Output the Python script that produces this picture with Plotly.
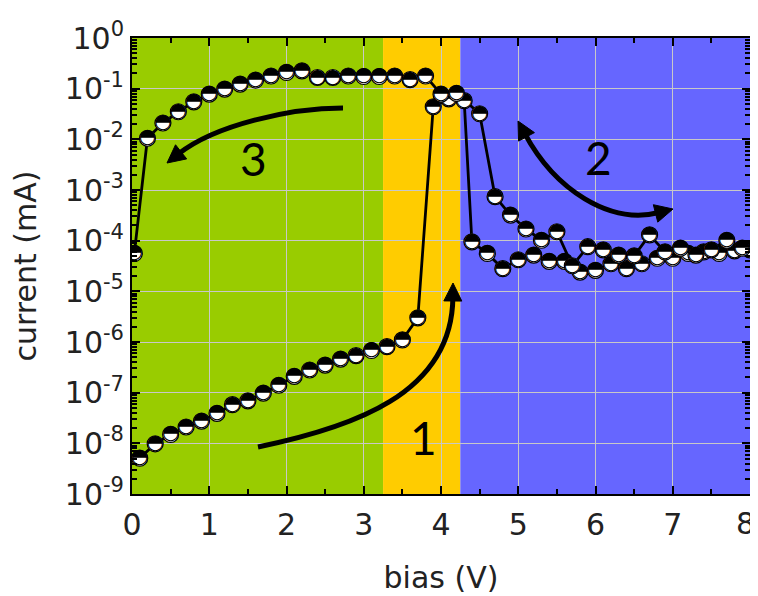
import math
import plotly.graph_objects as go

# ---- data (bias in V, current in mA) ----
# sweep 1 (forward, 0 -> 8 V)
fwd_bias = [0.1, 0.3, 0.5, 0.7, 0.9, 1.1, 1.3, 1.5, 1.7, 1.9, 2.1, 2.3, 2.5, 2.7, 2.9,
            3.1, 3.3, 3.5, 3.7, 3.9, 4.1, 4.3, 4.4, 4.6, 4.8, 5.0, 5.2, 5.4, 5.6, 5.8,
            6.0, 6.2, 6.4, 6.6, 6.8, 7.0, 7.2, 7.4, 7.6, 7.8, 8.0]
fwd_current = [5.1e-9, 9.8e-9, 1.5e-8, 2.1e-8, 2.75e-8, 3.9e-8, 5.8e-8, 6.9e-8, 9.8e-8,
               1.4e-7, 2.1e-7, 2.8e-7, 3.5e-7, 4.6e-7, 5.4e-7, 6.8e-7, 8.1e-7, 1.1e-6,
               3.0e-6, 0.044, 0.063, 0.058, 9.5e-5, 5.6e-5, 2.8e-5, 4.2e-5, 5.2e-5,
               3.9e-5, 3.9e-5, 2.4e-5, 2.6e-5, 3.5e-5, 2.8e-5, 3.5e-5, 4.5e-5, 4.5e-5,
               5.6e-5, 6.0e-5, 5.6e-5, 6.3e-5, 6.6e-5]
# sweeps 2 (return) and 3 (8 -> 0 V)
ret_bias = [7.9, 7.7, 7.5, 7.3, 7.1, 6.9, 6.7, 6.5, 6.3, 6.1, 5.9, 5.7, 5.5, 5.3, 5.1,
            4.9, 4.7, 4.5, 4.2, 4.0, 3.8, 3.6, 3.4, 3.2, 3.0, 2.8, 2.6, 2.4, 2.2, 2.0,
            1.8, 1.6, 1.4, 1.2, 1.0, 0.8, 0.6, 0.4, 0.2, 0.03]
ret_current = [7.1e-5, 1.02e-4, 6.6e-5, 5.2e-5, 7.1e-5, 6.0e-5, 1.3e-4, 5.0e-5, 5.2e-5,
               6.6e-5, 7.6e-5, 3.2e-5, 1.5e-4, 1.02e-4, 1.7e-4, 3.2e-4, 7.4e-4, 0.032,
               0.081, 0.078, 0.178, 0.151, 0.178, 0.174, 0.174, 0.178, 0.166, 0.166,
               0.224, 0.209, 0.178, 0.148, 0.123, 0.098, 0.078, 0.055, 0.035, 0.021,
               0.0105, 5.6e-5]

# background regions (V)
region_edges = [0, 3.25, 4.25, 8]
region_colors = ["#99CC00", "#FFCC00", "#6666FF"]

x_tickvals = [0, 1, 2, 3, 4, 5, 6, 7, 8]
x_ticktext = ["0", "1", "2", "3", "4", "5", "6", "7", ""]   # "8" drawn as annotation
last_x_label = "8"

y_tickvals = [1e-9, 1e-8, 1e-7, 1e-6, 1e-5, 1e-4, 1e-3, 1e-2, 1e-1, 1e0]
y_ticktext = ["10<sup>-9</sup>", "10<sup>-8</sup>", "10<sup>-7</sup>", "10<sup>-6</sup>",
              "10<sup>-5</sup>", "10<sup>-4</sup>", "10<sup>-3</sup>", "10<sup>-2</sup>",
              "10<sup>-1</sup>", "10<sup>0</sup>"]

# page body has an 8px margin: figure is placed at (8, 8)
OFF = 8
W, H = 758 - OFF, 596 - OFF
L, R, T, B = 132 - OFF, 8, 38 - OFF, 102
PW, PH = W - L - R, H - T - B
PLOT_L, PLOT_B = 132, 494   # plot area in window pixels

fig = go.Figure()

for xs, ys in [(fwd_bias, fwd_current), (ret_bias, ret_current)]:
    fig.add_trace(go.Scatter(x=xs, y=ys, mode="lines",
                             line=dict(color="black", width=2.8), hoverinfo="skip"))
for xs, ys in [(fwd_bias, fwd_current), (ret_bias, ret_current)]:
    fig.add_trace(go.Scatter(x=xs, y=ys, mode="markers",
                             marker=dict(symbol="circle", size=16, color="white",
                                         line=dict(color="black", width=1.2))))
    fig.add_trace(go.Scatter(x=xs, y=ys, mode="text", text=["◓"] * len(xs),
                             textposition="middle center",
                             textfont=dict(family="DejaVu Sans", size=20, color="black")))

shapes = []
for i, c in enumerate(region_colors):
    shapes.append(dict(type="rect", xref="x", yref="paper", x0=region_edges[i],
                       x1=region_edges[i + 1], y0=0, y1=1, fillcolor=c,
                       line=dict(width=0), layer="below"))


def P(px, py):
    return ((px - PLOT_L) / PW, (PLOT_B - py) / PH)


def head(tip, frm, length=18, half=9):
    dx, dy = tip[0] - frm[0], tip[1] - frm[1]
    n = math.hypot(dx, dy)
    ux, uy = dx / n, dy / n
    bx, by = tip[0] - ux * length, tip[1] - uy * length
    b1 = (bx - uy * half, by + ux * half)
    b2 = (bx + uy * half, by - ux * half)
    pts = [P(*tip), P(*b1), P(*b2)]
    return ("M {},{} L {},{} L {},{} Z".format(*pts[0], *pts[1], *pts[2]),
            (tip[0] - ux * length * 0.8, tip[1] - uy * length * 0.8))


def arrow(p0, p1, p2, p3, both=False):
    h_end, e3 = head(p3, p2)
    s0 = p0
    if both:
        h_start, s0 = head(p0, p1)
        shapes.append(dict(type="path", xref="paper", yref="paper", path=h_start,
                           fillcolor="black", line=dict(color="black", width=1)))
    a, b, c, d = P(*s0), P(*p1), P(*p2), P(*e3)
    shapes.append(dict(type="path", xref="paper", yref="paper",
                       path="M {},{} C {},{} {},{} {},{}".format(*a, *b, *c, *d),
                       line=dict(color="black", width=5)))
    shapes.append(dict(type="path", xref="paper", yref="paper", path=h_end,
                       fillcolor="black", line=dict(color="black", width=1)))


arrow((258, 447), (350, 428), (452, 395), (453, 283))
arrow((343, 108), (290, 108), (215, 125), (167, 163))
arrow((518, 121), (555, 190), (610, 225), (673, 209), both=True)

annos = []
for txt, (px, py) in [("1", (423, 437)), ("2", (598, 157)), ("3", (253, 158))]:
    x, y = P(px, py)
    annos.append(dict(text=txt, x=x, y=y, xref="paper", yref="paper", showarrow=False,
                      font=dict(family="Lato", size=46, color="black"),
                      xanchor="center", yanchor="middle"))

TFONT = dict(family="DejaVu Sans", size=30, color="#222")
# last x tick label, right-aligned to stay inside the window
annos.append(dict(text=last_x_label, x=x_tickvals[-1], xref="x", y=0, yref="paper",
                  xanchor="right", yanchor="top", xshift=7, yshift=-10, showarrow=False,
                  font=TFONT))

axis_common = dict(showline=True, linecolor="black", linewidth=2, mirror="allticks",
                   ticks="inside", tickcolor="black", tickwidth=2, ticklen=8,
                   showgrid=True, gridcolor="#c8c8c8", gridwidth=1, zeroline=False,
                   tickfont=TFONT, automargin=False)

fig.update_layout(
    width=W, height=H, margin=dict(l=L, r=R, t=T, b=B, autoexpand=False),
    paper_bgcolor="white", plot_bgcolor="white", showlegend=False,
    shapes=shapes, annotations=annos,
    xaxis=dict(range=[0, 8], tickmode="array", tickvals=x_tickvals, ticktext=x_ticktext,
               ticklabelstandoff=3,
               minor=dict(dtick=0.5, ticks="inside", ticklen=5, tickcolor="black",
                          tickwidth=1.5, showgrid=False),
               title=dict(text="bias (V)", standoff=26,
                          font=dict(family="DejaVu Sans", size=30, color="#222")),
               **axis_common),
    yaxis=dict(type="log", range=[-9, 0], tickmode="array", tickvals=y_tickvals,
               ticktext=y_ticktext,
               minor=dict(dtick="D1", ticks="inside", ticklen=5, tickcolor="black",
                          tickwidth=1.5, showgrid=False),
               title=dict(text="current (mA)", standoff=20,
                          font=dict(family="DejaVu Sans", size=30, color="#222")),
               **axis_common),
)

fig.write_html("out.html")
